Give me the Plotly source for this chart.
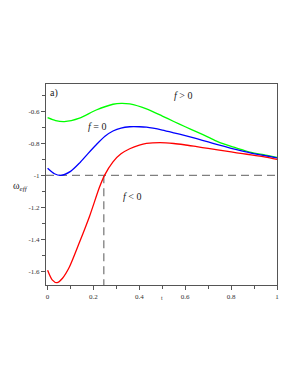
import plotly.graph_objects as go

# Data
t_green = [0.0, 0.035, 0.073, 0.139, 0.212, 0.285, 0.321, 0.358, 0.431, 0.5, 0.55, 0.6, 0.65, 0.7, 0.741, 0.8, 0.85, 0.887, 0.95, 1.0]
w_green = [-0.6375, -0.656, -0.6625, -0.641, -0.59, -0.554, -0.548, -0.552, -0.583, -0.628, -0.662, -0.695, -0.727, -0.76, -0.788, -0.818, -0.84, -0.856, -0.873, -0.888]

t_blue = [0.0, 0.03, 0.058, 0.1, 0.139, 0.175, 0.212, 0.25, 0.285, 0.32, 0.358, 0.4, 0.431, 0.5, 0.55, 0.6, 0.65, 0.7, 0.741, 0.8, 0.85, 0.887, 0.95, 1.0]
w_blue = [-0.955, -0.99, -1.0, -0.975, -0.923, -0.865, -0.808, -0.755, -0.722, -0.703, -0.695, -0.695, -0.698, -0.716, -0.733, -0.751, -0.77, -0.79, -0.807, -0.83, -0.848, -0.86, -0.877, -0.89]

t_red = [0.0, 0.02, 0.041, 0.065, 0.095, 0.139, 0.183, 0.226, 0.248, 0.285, 0.32, 0.358, 0.4, 0.431, 0.49, 0.55, 0.595, 0.65, 0.7, 0.741, 0.8, 0.85, 0.887, 0.95, 1.0]
w_red = [-1.595, -1.655, -1.673, -1.645, -1.575, -1.42, -1.256, -1.075, -1.0, -0.915, -0.865, -0.833, -0.81, -0.8, -0.795, -0.8, -0.808, -0.82, -0.831, -0.84, -0.853, -0.864, -0.871, -0.885, -0.9]

t_cross = 0.245
w_cross = -1.0

x_ticks = [0, 0.2, 0.4, 0.6, 0.8, 1]
x_ticktext = ["0", "0.2", "0.4", "0.6", "0.8", "1"]
y_ticks = [-0.6, -0.8, -1.0, -1.2, -1.4, -1.6]
y_ticktext = ["-0.6", "-0.8", "-1", "-1.2", "-1.4", "-1.6"]

XR = [-0.007, 1.0]
YR = [-1.6875, -0.427]

SERIF = "Liberation Serif, Times New Roman, serif"

fig = go.Figure()
fig.add_trace(go.Scatter(x=XR, y=[w_cross, w_cross], mode="lines",
                         line=dict(color="#7f7f7f", width=1.3, dash="8px,5px"), hoverinfo="skip"))
fig.add_trace(go.Scatter(x=[t_cross, t_cross], y=[w_cross, YR[0]], mode="lines",
                         line=dict(color="#7f7f7f", width=1.3, dash="8px,5px"), hoverinfo="skip"))
fig.add_trace(go.Scatter(x=t_green, y=w_green, mode="lines", line=dict(color="#00ff00", width=1.3, shape="spline", smoothing=0.7)))
fig.add_trace(go.Scatter(x=t_blue, y=w_blue, mode="lines", line=dict(color="#0000ff", width=1.3, shape="spline", smoothing=0.7)))
fig.add_trace(go.Scatter(x=t_red, y=w_red, mode="lines", line=dict(color="#ff0000", width=1.3, shape="spline", smoothing=0.7)))

axis_common = dict(showgrid=False, zeroline=False, showline=True, linecolor="#555555", linewidth=1.2,
                   mirror=True, ticks="outside", ticklen=4, tickcolor="#555555", tickwidth=1,
                   tickfont=dict(family=SERIF, size=7, color="#333333"))
fig.update_xaxes(range=XR, tickvals=x_ticks, ticktext=x_ticktext,
                 minor=dict(ticks="outside", ticklen=3, tickcolor="#555555", dtick=0.1, tick0=0), **axis_common)
fig.update_yaxes(range=YR, tickvals=y_ticks, ticktext=y_ticktext,
                 minor=dict(ticks="outside", ticklen=3, tickcolor="#555555", dtick=0.1, tick0=0), **axis_common)

ann_font = dict(family=SERIF, size=10, color="#222222")
fig.add_annotation(x=0.59, y=-0.50, text="<i>f</i> &gt; 0", showarrow=False, font=ann_font)
fig.add_annotation(x=0.215, y=-0.695, text="<i>f</i> = 0", showarrow=False, font=ann_font)
fig.add_annotation(x=0.37, y=-1.13, text="<i>f</i> &lt; 0", showarrow=False, font=ann_font)
fig.add_annotation(xref="paper", yref="paper", x=0.01, y=0.995, xanchor="left", yanchor="top",
                   text="a)", showarrow=False, font=dict(family=SERIF, size=10, color="#222222"))
fig.add_annotation(xref="paper", yref="paper", x=-0.11, y=0.49, xanchor="center", yanchor="middle",
                   text="ω<sub><i>eff</i></sub>", showarrow=False, font=dict(family=SERIF, size=10, color="#222222"))
fig.add_annotation(xref="paper", yref="paper", x=0.5, y=-0.065, xanchor="center", yanchor="middle",
                   text="t", showarrow=False, font=dict(family=SERIF, size=6, color="#333333"))

# page body has an 8px default margin; compensate so the plot box lands where the reference has it
fig.update_layout(width=290, height=377, margin=dict(l=38, r=21, t=76, b=100),
                  paper_bgcolor="white", plot_bgcolor="white", showlegend=False)

fig.write_html("out.html")
